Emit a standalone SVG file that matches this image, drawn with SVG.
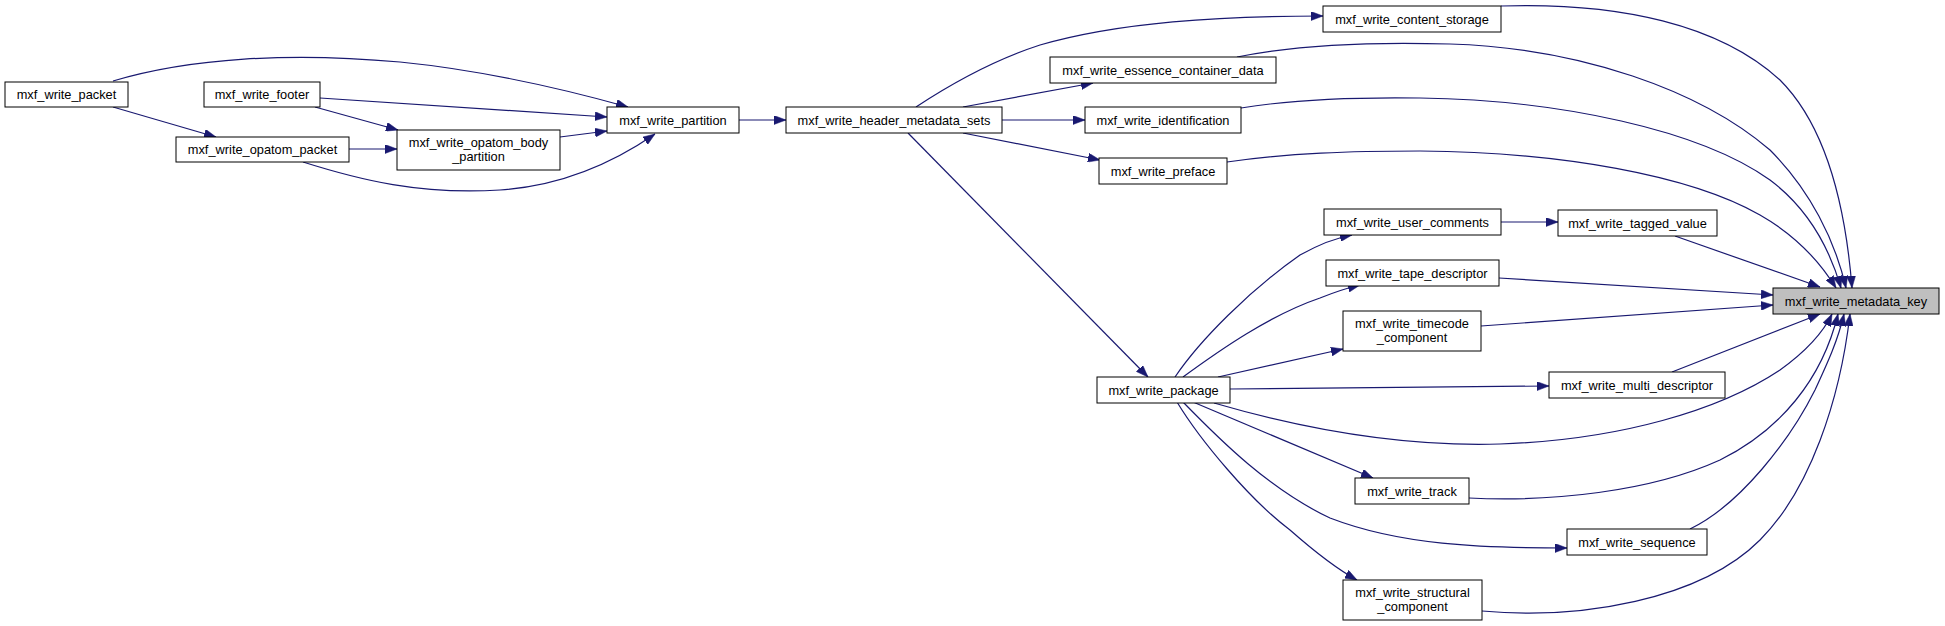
<svg xmlns="http://www.w3.org/2000/svg" width="1945" height="626" viewBox="0 0 1945 626">
<style>
.n rect{fill:#ffffff;stroke:#000000;stroke-width:1}
.n.hl rect{fill:#bfbfbf}
.n text{font-family:"Liberation Sans",Arial,sans-serif;font-size:12.8px;fill:#000000;text-anchor:middle}
.e path{fill:none;stroke:#191970;stroke-width:1.2;marker-end:url(#ah)}
</style>
<defs>
<marker id="ah" markerUnits="userSpaceOnUse" markerWidth="12" markerHeight="9" refX="12" refY="4.5" orient="auto">
<path d="M0,0 L12,4.5 L0,9 z" fill="#191970" stroke="#191970" stroke-width="0.5"/>
</marker>
</defs>
<rect width="1945" height="626" fill="#ffffff"/>
<g class="e" id="edges">
<path d="M113,81 C190,58 290,52 400,62 C480,70 560,88 628,107"/>
<path d="M320,98 L607,117"/>
<path d="M315,107 L398,130"/>
<path d="M113,107 L216,137"/>
<path d="M349,149 L397,149"/>
<path d="M560,137 L607,131"/>
<path d="M303,162 C360,180 420,195 500,190 C560,186 610,165 655,134"/>
<path d="M739,120 L786,120"/>
<path d="M916,107 C960,78 1000,58 1040,45 C1120,22 1220,16 1323,16"/>
<path d="M963,107 L1093,83"/>
<path d="M1002,120 L1085,120"/>
<path d="M963,133 L1100,160"/>
<path d="M908,133 L1148,377"/>
<path d="M1501,6 C1620,2 1720,25 1780,80 C1825,125 1845,200 1852,288"/>
<path d="M1237,57 C1300,44 1380,42 1450,44 C1580,48 1700,90 1770,150 C1810,190 1835,240 1846,288"/>
<path d="M1241,108 C1290,100 1350,97 1420,98 C1560,100 1700,130 1770,180 C1810,210 1830,250 1841,288"/>
<path d="M1227,162 C1290,153 1350,151 1420,151 C1560,152 1690,175 1760,215 C1795,235 1820,262 1836,288"/>
<path d="M1501,222 L1558,222"/>
<path d="M1675,236 L1820,287"/>
<path d="M1499,278 L1773,295"/>
<path d="M1481,326 L1773,305"/>
<path d="M1672,372 L1820,314"/>
<path d="M1214,403 C1300,428 1400,447 1500,444 C1620,440 1720,410 1780,370 C1805,352 1822,335 1832,314"/>
<path d="M1193,402 L1373,478"/>
<path d="M1469,498 C1550,502 1650,492 1720,460 C1780,430 1822,380 1838,314"/>
<path d="M1183,402 C1220,440 1270,490 1330,518 C1400,545 1480,548 1567,548"/>
<path d="M1690,529 C1740,505 1790,440 1815,390 C1828,362 1838,340 1844,314"/>
<path d="M1177,402 C1200,440 1250,500 1290,530 C1315,552 1335,568 1357,580"/>
<path d="M1482,611 C1580,620 1700,600 1760,540 C1810,490 1840,400 1850,314"/>
<path d="M1175,377 C1200,340 1250,290 1300,255 C1318,245 1335,238 1352,235"/>
<path d="M1183,377 C1220,350 1270,315 1320,298 C1335,292 1347,288 1360,285"/>
<path d="M1218,377 L1343,349"/>
<path d="M1230,389 L1549,386"/>
</g>
<g class="n" id="mxf_write_packet"><rect x="5" y="82" width="123" height="25"/><text x="66.5" y="99">mxf_write_packet</text></g>
<g class="n" id="mxf_write_footer"><rect x="204" y="82" width="116" height="25"/><text x="262" y="99">mxf_write_footer</text></g>
<g class="n" id="mxf_write_opatom_packet"><rect x="176" y="137" width="173" height="25"/><text x="262.5" y="154">mxf_write_opatom_packet</text></g>
<g class="n" id="mxf_write_opatom_body_partition"><rect x="397" y="130" width="163" height="40"/><text x="478.5" y="147">mxf_write_opatom_body</text><text x="478.5" y="161">_partition</text></g>
<g class="n" id="mxf_write_partition"><rect x="607" y="107" width="132" height="26"/><text x="673" y="124.5">mxf_write_partition</text></g>
<g class="n" id="mxf_write_header_metadata_sets"><rect x="786" y="107" width="216" height="26"/><text x="894" y="124.5">mxf_write_header_metadata_sets</text></g>
<g class="n" id="mxf_write_content_storage"><rect x="1323" y="6" width="178" height="26"/><text x="1412" y="23.5">mxf_write_content_storage</text></g>
<g class="n" id="mxf_write_essence_container_data"><rect x="1050" y="57" width="226" height="26"/><text x="1163" y="74.5">mxf_write_essence_container_data</text></g>
<g class="n" id="mxf_write_identification"><rect x="1085" y="107" width="156" height="26"/><text x="1163" y="124.5">mxf_write_identification</text></g>
<g class="n" id="mxf_write_preface"><rect x="1099" y="158" width="128" height="26"/><text x="1163" y="175.5">mxf_write_preface</text></g>
<g class="n" id="mxf_write_user_comments"><rect x="1324" y="209" width="177" height="26"/><text x="1412.5" y="226.5">mxf_write_user_comments</text></g>
<g class="n" id="mxf_write_tagged_value"><rect x="1558" y="210" width="159" height="26"/><text x="1637.5" y="227.5">mxf_write_tagged_value</text></g>
<g class="n" id="mxf_write_tape_descriptor"><rect x="1326" y="260" width="173" height="26"/><text x="1412.5" y="277.5">mxf_write_tape_descriptor</text></g>
<g class="n" id="mxf_write_timecode_component"><rect x="1343" y="311" width="138" height="40"/><text x="1412" y="328">mxf_write_timecode</text><text x="1412" y="342">_component</text></g>
<g class="n hl" id="mxf_write_metadata_key"><rect x="1773" y="288" width="166" height="26"/><text x="1856" y="305.5">mxf_write_metadata_key</text></g>
<g class="n" id="mxf_write_multi_descriptor"><rect x="1549" y="372" width="176" height="26"/><text x="1637" y="389.5">mxf_write_multi_descriptor</text></g>
<g class="n" id="mxf_write_package"><rect x="1097" y="377" width="133" height="26"/><text x="1163.5" y="394.5">mxf_write_package</text></g>
<g class="n" id="mxf_write_track"><rect x="1355" y="478" width="114" height="26"/><text x="1412" y="495.5">mxf_write_track</text></g>
<g class="n" id="mxf_write_sequence"><rect x="1567" y="529" width="140" height="26"/><text x="1637" y="546.5">mxf_write_sequence</text></g>
<g class="n" id="mxf_write_structural_component"><rect x="1343" y="580" width="139" height="40"/><text x="1412.5" y="597">mxf_write_structural</text><text x="1412.5" y="611">_component</text></g>
</svg>
